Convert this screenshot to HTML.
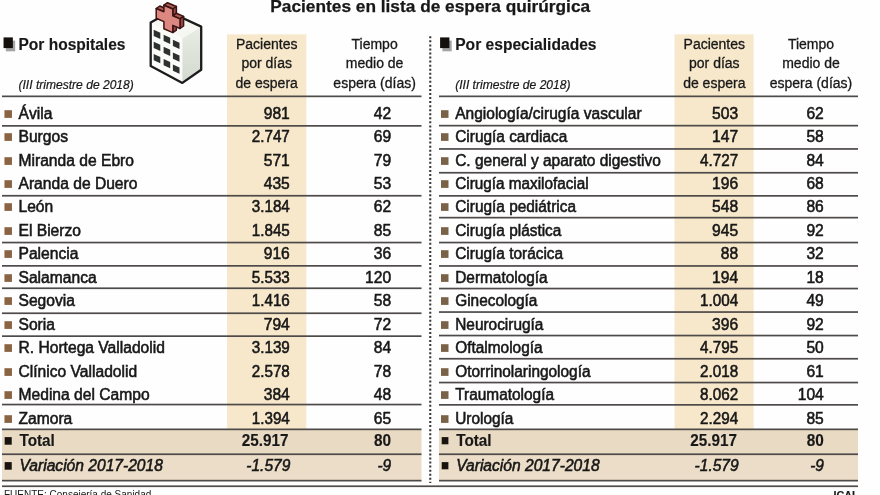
<!DOCTYPE html>
<html><head><meta charset="utf-8"><title>Pacientes en lista de espera quirúrgica</title>
<style>
html,body{margin:0;padding:0;background:#fff;}
body{width:880px;height:495px;overflow:hidden;position:relative;font-family:"Liberation Sans",sans-serif;color:#181818;}
#w{filter:blur(0.4px);will-change:transform;position:absolute;left:0;top:0;width:880px;height:495px;overflow:hidden;background:#fefefe;}
.a{position:absolute;white-space:nowrap;line-height:1;}
.t{font-size:16px;transform-origin:0 0;-webkit-text-stroke:0.55px #151515;}
.n{font-size:16px;text-align:right;transform-origin:100% 0;-webkit-text-stroke:0.55px #151515;}
.h{font-size:14px;text-align:center;line-height:19.5px;white-space:nowrap;position:absolute;transform-origin:50% 0;-webkit-text-stroke:0.3px #181818;}
.b{font-weight:bold;-webkit-text-stroke:0.15px #181818;}
.i{font-style:italic;}
</style></head><body><div id="w">
<svg style="position:absolute;left:0;top:0" width="880" height="495" viewBox="0 0 880 495"><rect x="227" y="34.3" width="79.3" height="395.2" fill="#f7e8cb"/><rect x="2" y="429.5" width="419.5" height="25" fill="#e9dac4"/><rect x="2" y="454.5" width="419.5" height="26.2" fill="#ebddc7"/><rect x="674.5" y="34.3" width="79.2" height="395.2" fill="#f7e8cb"/><rect x="439" y="429.5" width="419" height="25" fill="#e9dac4"/><rect x="439" y="454.5" width="419" height="26.2" fill="#ebddc7"/></svg>

<div class="a b" style="left:270px;top:-2px;transform:translateX(0.3px);font-size:17.3px;-webkit-text-stroke:0.25px #181818">Pacientes en lista de espera quirúrgica</div>
<div class="a t b" style="left:18px;transform:translateX(0.50px) scaleX(0.97);top:37px">Por hospitales</div>
<div class="a i" style="left:18px;transform:translateX(0.50px) scaleX(1.005);top:79px;font-size:12px;transform-origin:0 0;-webkit-text-stroke:0.2px #181818">(III trimestre de 2018)</div>
<div class="h" style="left:206px;transform:translateX(0.70px) scaleX(1);width:120px;top:34.6px">Pacientes<br>por días<br>de espera</div>
<div class="h" style="left:314px;transform:translateX(0.60px) scaleX(1);width:120px;top:34.6px">Tiempo<br>medio de<br>espera (días)</div>
<div class="a t" style="left:18px;transform:translateX(0.50px) scaleX(0.976);top:106px">Ávila</div>
<div class="a n" style="left:209px;transform:translateX(0.80px) scaleX(0.975);width:80px;top:106px">981</div>
<div class="a n" style="left:311px;transform:translateX(0.10px) scaleX(0.975);width:80px;top:106px">42</div>
<div class="a t" style="left:18px;transform:translateX(0.50px) scaleX(0.976);top:129px">Burgos</div>
<div class="a n" style="left:209px;transform:translateX(0.80px) scaleX(0.95);width:80px;top:129px">2.747</div>
<div class="a n" style="left:311px;transform:translateX(0.10px) scaleX(0.975);width:80px;top:129px">69</div>
<div class="a t" style="left:18px;transform:translateX(0.50px) scaleX(0.976);top:153px">Miranda de Ebro</div>
<div class="a n" style="left:209px;transform:translateX(0.80px) scaleX(0.975);width:80px;top:153px">571</div>
<div class="a n" style="left:311px;transform:translateX(0.10px) scaleX(0.975);width:80px;top:153px">79</div>
<div class="a t" style="left:18px;transform:translateX(0.50px) scaleX(0.976);top:176px">Aranda de Duero</div>
<div class="a n" style="left:209px;transform:translateX(0.80px) scaleX(0.975);width:80px;top:176px">435</div>
<div class="a n" style="left:311px;transform:translateX(0.10px) scaleX(0.975);width:80px;top:176px">53</div>
<div class="a t" style="left:18px;transform:translateX(0.50px) scaleX(0.976);top:199px">León</div>
<div class="a n" style="left:209px;transform:translateX(0.80px) scaleX(0.95);width:80px;top:199px">3.184</div>
<div class="a n" style="left:311px;transform:translateX(0.10px) scaleX(0.975);width:80px;top:199px">62</div>
<div class="a t" style="left:18px;transform:translateX(0.50px) scaleX(0.976);top:223px">El Bierzo</div>
<div class="a n" style="left:209px;transform:translateX(0.80px) scaleX(0.95);width:80px;top:223px">1.845</div>
<div class="a n" style="left:311px;transform:translateX(0.10px) scaleX(0.975);width:80px;top:223px">85</div>
<div class="a t" style="left:18px;transform:translateX(0.50px) scaleX(0.976);top:246px">Palencia</div>
<div class="a n" style="left:209px;transform:translateX(0.80px) scaleX(0.975);width:80px;top:246px">916</div>
<div class="a n" style="left:311px;transform:translateX(0.10px) scaleX(0.975);width:80px;top:246px">36</div>
<div class="a t" style="left:18px;transform:translateX(0.50px) scaleX(0.976);top:270px">Salamanca</div>
<div class="a n" style="left:209px;transform:translateX(0.80px) scaleX(0.95);width:80px;top:270px">5.533</div>
<div class="a n" style="left:311px;transform:translateX(0.10px) scaleX(0.975);width:80px;top:270px">120</div>
<div class="a t" style="left:18px;transform:translateX(0.50px) scaleX(0.976);top:293px">Segovia</div>
<div class="a n" style="left:209px;transform:translateX(0.80px) scaleX(0.95);width:80px;top:293px">1.416</div>
<div class="a n" style="left:311px;transform:translateX(0.10px) scaleX(0.975);width:80px;top:293px">58</div>
<div class="a t" style="left:18px;transform:translateX(0.50px) scaleX(0.976);top:317px">Soria</div>
<div class="a n" style="left:209px;transform:translateX(0.80px) scaleX(0.975);width:80px;top:317px">794</div>
<div class="a n" style="left:311px;transform:translateX(0.10px) scaleX(0.975);width:80px;top:317px">72</div>
<div class="a t" style="left:18px;transform:translateX(0.50px) scaleX(0.976);top:340px">R. Hortega Valladolid</div>
<div class="a n" style="left:209px;transform:translateX(0.80px) scaleX(0.95);width:80px;top:340px">3.139</div>
<div class="a n" style="left:311px;transform:translateX(0.10px) scaleX(0.975);width:80px;top:340px">84</div>
<div class="a t" style="left:18px;transform:translateX(0.50px) scaleX(0.976);top:364px">Clínico Valladolid</div>
<div class="a n" style="left:209px;transform:translateX(0.80px) scaleX(0.95);width:80px;top:364px">2.578</div>
<div class="a n" style="left:311px;transform:translateX(0.10px) scaleX(0.975);width:80px;top:364px">78</div>
<div class="a t" style="left:18px;transform:translateX(0.50px) scaleX(0.976);top:387px">Medina del Campo</div>
<div class="a n" style="left:209px;transform:translateX(0.80px) scaleX(0.975);width:80px;top:387px">384</div>
<div class="a n" style="left:311px;transform:translateX(0.10px) scaleX(0.975);width:80px;top:387px">48</div>
<div class="a t" style="left:18px;transform:translateX(0.50px) scaleX(0.976);top:411px">Zamora</div>
<div class="a n" style="left:209px;transform:translateX(0.80px) scaleX(0.95);width:80px;top:411px">1.394</div>
<div class="a n" style="left:311px;transform:translateX(0.10px) scaleX(0.975);width:80px;top:411px">65</div>
<div class="a t b" style="left:19px;transform:translateX(0.50px) scaleX(0.955);top:433px">Total</div>
<div class="a n b" style="left:208px;transform:translateX(0.60px) scaleX(0.955);width:80px;top:433px">25.917</div>
<div class="a n b" style="left:311px;transform:translateX(0.10px) scaleX(0.96);width:80px;top:433px">80</div>
<div class="a t i" style="left:19px;transform:translateX(0.50px) scaleX(0.975);top:458px">Variación 2017-2018</div>
<div class="a n i" style="left:210px;transform:translateX(0.30px) scaleX(0.97);width:80px;top:458px">-1.579</div>
<div class="a n i" style="left:311px;transform:translateX(0.10px) scaleX(0.96);width:80px;top:458px">-9</div>
<div class="a t b" style="left:455px;transform:translateX(0.20px) scaleX(0.975);top:37px">Por especialidades</div>
<div class="a i" style="left:455px;transform:translateX(0.20px) scaleX(1.005);top:79px;font-size:12px;transform-origin:0 0;-webkit-text-stroke:0.2px #181818">(III trimestre de 2018)</div>
<div class="h" style="left:654px;transform:translateX(0.30px) scaleX(1);width:120px;top:34.6px">Pacientes<br>por días<br>de espera</div>
<div class="h" style="left:751px;transform:translateX(0.00px) scaleX(1);width:120px;top:34.6px">Tiempo<br>medio de<br>espera (días)</div>
<div class="a t" style="left:455px;transform:translateX(0.20px) scaleX(0.97);top:106px">Angiología/cirugía vascular</div>
<div class="a n" style="left:658px;transform:translateX(0.10px) scaleX(0.975);width:80px;top:106px">503</div>
<div class="a n" style="left:743px;transform:translateX(0.80px) scaleX(0.975);width:80px;top:106px">62</div>
<div class="a t" style="left:455px;transform:translateX(0.20px) scaleX(0.963);top:129px">Cirugía cardiaca</div>
<div class="a n" style="left:658px;transform:translateX(0.10px) scaleX(0.975);width:80px;top:129px">147</div>
<div class="a n" style="left:743px;transform:translateX(0.80px) scaleX(0.975);width:80px;top:129px">58</div>
<div class="a t" style="left:455px;transform:translateX(0.20px) scaleX(0.967);top:153px">C. general y aparato digestivo</div>
<div class="a n" style="left:658px;transform:translateX(0.10px) scaleX(0.95);width:80px;top:153px">4.727</div>
<div class="a n" style="left:743px;transform:translateX(0.80px) scaleX(0.975);width:80px;top:153px">84</div>
<div class="a t" style="left:455px;transform:translateX(0.20px) scaleX(0.956);top:176px">Cirugía maxilofacial</div>
<div class="a n" style="left:658px;transform:translateX(0.10px) scaleX(0.975);width:80px;top:176px">196</div>
<div class="a n" style="left:743px;transform:translateX(0.80px) scaleX(0.975);width:80px;top:176px">68</div>
<div class="a t" style="left:455px;transform:translateX(0.20px) scaleX(0.963);top:199px">Cirugía pediátrica</div>
<div class="a n" style="left:658px;transform:translateX(0.10px) scaleX(0.975);width:80px;top:199px">548</div>
<div class="a n" style="left:743px;transform:translateX(0.80px) scaleX(0.975);width:80px;top:199px">86</div>
<div class="a t" style="left:455px;transform:translateX(0.20px) scaleX(0.963);top:223px">Cirugía plástica</div>
<div class="a n" style="left:658px;transform:translateX(0.10px) scaleX(0.975);width:80px;top:223px">945</div>
<div class="a n" style="left:743px;transform:translateX(0.80px) scaleX(0.975);width:80px;top:223px">92</div>
<div class="a t" style="left:455px;transform:translateX(0.20px) scaleX(0.963);top:246px">Cirugía torácica</div>
<div class="a n" style="left:658px;transform:translateX(0.10px) scaleX(0.975);width:80px;top:246px">88</div>
<div class="a n" style="left:743px;transform:translateX(0.80px) scaleX(0.975);width:80px;top:246px">32</div>
<div class="a t" style="left:455px;transform:translateX(0.20px) scaleX(0.963);top:270px">Dermatología</div>
<div class="a n" style="left:658px;transform:translateX(0.10px) scaleX(0.975);width:80px;top:270px">194</div>
<div class="a n" style="left:743px;transform:translateX(0.80px) scaleX(0.975);width:80px;top:270px">18</div>
<div class="a t" style="left:455px;transform:translateX(0.20px) scaleX(0.963);top:293px">Ginecología</div>
<div class="a n" style="left:658px;transform:translateX(0.10px) scaleX(0.95);width:80px;top:293px">1.004</div>
<div class="a n" style="left:743px;transform:translateX(0.80px) scaleX(0.975);width:80px;top:293px">49</div>
<div class="a t" style="left:455px;transform:translateX(0.20px) scaleX(0.963);top:317px">Neurocirugía</div>
<div class="a n" style="left:658px;transform:translateX(0.10px) scaleX(0.975);width:80px;top:317px">396</div>
<div class="a n" style="left:743px;transform:translateX(0.80px) scaleX(0.975);width:80px;top:317px">92</div>
<div class="a t" style="left:455px;transform:translateX(0.20px) scaleX(0.963);top:340px">Oftalmología</div>
<div class="a n" style="left:658px;transform:translateX(0.10px) scaleX(0.95);width:80px;top:340px">4.795</div>
<div class="a n" style="left:743px;transform:translateX(0.80px) scaleX(0.975);width:80px;top:340px">50</div>
<div class="a t" style="left:455px;transform:translateX(0.20px) scaleX(0.963);top:364px">Otorrinolaringología</div>
<div class="a n" style="left:658px;transform:translateX(0.10px) scaleX(0.95);width:80px;top:364px">2.018</div>
<div class="a n" style="left:743px;transform:translateX(0.80px) scaleX(0.975);width:80px;top:364px">61</div>
<div class="a t" style="left:455px;transform:translateX(0.20px) scaleX(0.963);top:387px">Traumatología</div>
<div class="a n" style="left:658px;transform:translateX(0.10px) scaleX(0.95);width:80px;top:387px">8.062</div>
<div class="a n" style="left:743px;transform:translateX(0.80px) scaleX(0.975);width:80px;top:387px">104</div>
<div class="a t" style="left:455px;transform:translateX(0.20px) scaleX(0.963);top:411px">Urología</div>
<div class="a n" style="left:658px;transform:translateX(0.10px) scaleX(0.95);width:80px;top:411px">2.294</div>
<div class="a n" style="left:743px;transform:translateX(0.80px) scaleX(0.975);width:80px;top:411px">85</div>
<div class="a t b" style="left:456px;transform:translateX(0.20px) scaleX(0.955);top:433px">Total</div>
<div class="a n b" style="left:656px;transform:translateX(0.90px) scaleX(0.955);width:80px;top:433px">25.917</div>
<div class="a n b" style="left:743px;transform:translateX(0.80px) scaleX(0.96);width:80px;top:433px">80</div>
<div class="a t i" style="left:456px;transform:translateX(0.20px) scaleX(0.975);top:458px">Variación 2017-2018</div>
<div class="a n i" style="left:658px;transform:translateX(0.60px) scaleX(0.97);width:80px;top:458px">-1.579</div>
<div class="a n i" style="left:743px;transform:translateX(0.80px) scaleX(0.96);width:80px;top:458px">-9</div>
<div class="a" style="left:4px;top:490.3px;font-size:10px">FUENTE: Consejería de Sanidad</div>
<div class="a b" style="left:833px;top:490px;transform:translateX(0.4px);font-size:10.8px">ICAL</div>
<svg style="position:absolute;left:0;top:0" width="880" height="495" viewBox="0 0 880 495"><rect x="5.85" y="40.6" width="9.3" height="10.7" fill="#a4a4a4"/><rect x="3.5500000000000003" y="37.4" width="9.3" height="10.7" fill="#14100e"/><rect x="4.45" y="110.20" width="7.5" height="7.7" fill="#8a6342"/><rect x="4.45" y="133.20" width="7.5" height="7.7" fill="#8a6342"/><rect x="4.45" y="157.20" width="7.5" height="7.7" fill="#8a6342"/><rect x="4.45" y="180.20" width="7.5" height="7.7" fill="#8a6342"/><rect x="4.45" y="203.20" width="7.5" height="7.7" fill="#8a6342"/><rect x="4.45" y="227.20" width="7.5" height="7.7" fill="#8a6342"/><rect x="4.45" y="250.20" width="7.5" height="7.7" fill="#8a6342"/><rect x="4.45" y="274.20" width="7.5" height="7.7" fill="#8a6342"/><rect x="4.45" y="297.20" width="7.5" height="7.7" fill="#8a6342"/><rect x="4.45" y="321.20" width="7.5" height="7.7" fill="#8a6342"/><rect x="4.45" y="344.20" width="7.5" height="7.7" fill="#8a6342"/><rect x="4.45" y="368.20" width="7.5" height="7.7" fill="#8a6342"/><rect x="4.45" y="391.20" width="7.5" height="7.7" fill="#8a6342"/><rect x="4.45" y="415.20" width="7.5" height="7.7" fill="#8a6342"/><rect x="4.65" y="437.10" width="7.1" height="7.6" fill="#1a1410"/><rect x="4.65" y="462.10" width="7.1" height="7.6" fill="#1a1410"/><rect x="2" y="95.50" width="419.5" height="1.7" fill="#4e4a49"/><rect x="2" y="125.00" width="419.5" height="1.7" fill="#4e4a49"/><rect x="2" y="194.90" width="419.5" height="1.7" fill="#4e4a49"/><rect x="2" y="241.70" width="419.5" height="1.7" fill="#4e4a49"/><rect x="2" y="265.00" width="419.5" height="1.7" fill="#4e4a49"/><rect x="2" y="287.40" width="419.5" height="1.7" fill="#4e4a49"/><rect x="2" y="312.40" width="419.5" height="1.7" fill="#4e4a49"/><rect x="2" y="335.30" width="419.5" height="1.7" fill="#4e4a49"/><rect x="2" y="403.70" width="419.5" height="1.7" fill="#4e4a49"/><rect x="2" y="428.50" width="419.5" height="1.7" fill="#4e4a49"/><rect x="2" y="453.40" width="419.5" height="1.7" fill="#4e4a49"/><rect x="2" y="479.80" width="419.5" height="1.7" fill="#4e4a49"/><rect x="442.40000000000003" y="40.6" width="9.3" height="10.7" fill="#a4a4a4"/><rect x="440.1" y="37.4" width="9.3" height="10.7" fill="#14100e"/><rect x="441" y="110.20" width="7.5" height="7.7" fill="#7a6248"/><rect x="441" y="133.20" width="7.5" height="7.7" fill="#7a6248"/><rect x="441" y="157.20" width="7.5" height="7.7" fill="#7a6248"/><rect x="441" y="180.20" width="7.5" height="7.7" fill="#7a6248"/><rect x="441" y="203.20" width="7.5" height="7.7" fill="#7a6248"/><rect x="441" y="227.20" width="7.5" height="7.7" fill="#7a6248"/><rect x="441" y="250.20" width="7.5" height="7.7" fill="#7a6248"/><rect x="441" y="274.20" width="7.5" height="7.7" fill="#7a6248"/><rect x="441" y="297.20" width="7.5" height="7.7" fill="#7a6248"/><rect x="441" y="321.20" width="7.5" height="7.7" fill="#7a6248"/><rect x="441" y="344.20" width="7.5" height="7.7" fill="#7a6248"/><rect x="441" y="368.20" width="7.5" height="7.7" fill="#7a6248"/><rect x="441" y="391.20" width="7.5" height="7.7" fill="#7a6248"/><rect x="441" y="415.20" width="7.5" height="7.7" fill="#7a6248"/><rect x="441.7" y="437.10" width="6.7" height="7.2" fill="#1a1410"/><rect x="441.7" y="462.10" width="6.7" height="7.2" fill="#1a1410"/><rect x="439" y="95.50" width="419" height="1.7" fill="#4e4a49"/><rect x="439" y="124.80" width="419" height="1.7" fill="#4e4a49"/><rect x="439" y="148.10" width="419" height="1.7" fill="#4e4a49"/><rect x="439" y="171.90" width="419" height="1.7" fill="#4e4a49"/><rect x="439" y="195.00" width="419" height="1.7" fill="#4e4a49"/><rect x="439" y="216.80" width="419" height="1.7" fill="#4e4a49"/><rect x="439" y="241.70" width="419" height="1.7" fill="#4e4a49"/><rect x="439" y="265.10" width="419" height="1.7" fill="#4e4a49"/><rect x="439" y="287.70" width="419" height="1.7" fill="#4e4a49"/><rect x="439" y="311.20" width="419" height="1.7" fill="#4e4a49"/><rect x="439" y="334.70" width="419" height="1.7" fill="#4e4a49"/><rect x="439" y="357.90" width="419" height="1.7" fill="#4e4a49"/><rect x="439" y="381.70" width="419" height="1.7" fill="#4e4a49"/><rect x="439" y="404.00" width="419" height="1.7" fill="#4e4a49"/><rect x="439" y="428.50" width="419" height="1.7" fill="#4e4a49"/><rect x="439" y="453.40" width="419" height="1.7" fill="#4e4a49"/><rect x="439" y="479.80" width="419" height="1.7" fill="#4e4a49"/><rect x="2" y="485.4" width="856" height="1.7" fill="#4e4a49"/><line x1="430.25" y1="36.3" x2="430.25" y2="483" stroke="#3a3a3a" stroke-width="2.1" stroke-dasharray="2 2.05"/></svg>
<svg style="position:absolute;left:0;top:0" width="230" height="95" viewBox="0 0 230 95">
<defs><linearGradient id="rg" x1="0" y1="0" x2="0" y2="1"><stop offset="0" stop-color="#e9ede5"/><stop offset="1" stop-color="#d2d9ce"/></linearGradient></defs>
<polygon points="150.7,22.6 182.4,38.3 182.4,82.9 150.7,65.9" fill="#fbfbf9"/>
<polygon points="182.4,38.3 201.2,26.6 201.2,69.7 182.4,82.9" fill="url(#rg)"/>
<polygon points="150.7,22.6 169.6,12.0 201.2,26.6 182.4,38.3" fill="#f6f6f2"/>
<polygon points="153.7,29.8 160.3,32.8 160.3,39.1 153.7,36.1" fill="#2d312f"/>
<polygon points="153.7,41.7 160.3,44.7 160.3,51.0 153.7,48.0" fill="#2d312f"/>
<polygon points="153.7,54.0 160.3,57.0 160.3,63.3 153.7,60.3" fill="#2d312f"/>
<polygon points="163.6,34.7 170.2,37.7 170.2,44.0 163.6,41.0" fill="#2d312f"/>
<polygon points="163.6,46.8 170.2,49.8 170.2,56.1 163.6,53.1" fill="#2d312f"/>
<polygon points="163.6,59.0 170.2,62.0 170.2,68.3 163.6,65.3" fill="#2d312f"/>
<polygon points="172.9,39.8 179.5,42.8 179.5,49.1 172.9,46.1" fill="#2d312f"/>
<polygon points="172.9,52.4 179.5,55.4 179.5,61.7 172.9,58.7" fill="#2d312f"/>
<polygon points="172.9,64.4 179.5,67.4 179.5,73.7 172.9,70.7" fill="#2d312f"/>
<polygon points="150.7,22.6 169.6,12.0 201.2,26.6 201.2,69.7 182.4,82.9 150.7,65.9" fill="none" stroke="#1c1c1c" stroke-width="2.3" stroke-linejoin="round"/>
<polygon points="156.2,8.5 163.9,11.8 167.5,9.3 159.8,6.0" fill="#b05a55" stroke="#3b1414" stroke-width="1.5" stroke-linejoin="round"/>
<polygon points="163.9,5.2 172.8,9.0 176.4,6.5 167.5,2.7" fill="#b05a55" stroke="#3b1414" stroke-width="1.5" stroke-linejoin="round"/>
<polygon points="172.8,9.0 172.8,15.8 176.4,13.3 176.4,6.5" fill="#9a4743" stroke="#3b1414" stroke-width="1.5" stroke-linejoin="round"/>
<polygon points="172.8,15.8 180.0,18.9 183.6,16.4 176.4,13.3" fill="#b05a55" stroke="#3b1414" stroke-width="1.5" stroke-linejoin="round"/>
<polygon points="180.0,18.9 180.0,28.5 183.6,26.0 183.6,16.4" fill="#9a4743" stroke="#3b1414" stroke-width="1.5" stroke-linejoin="round"/>
<polygon points="172.8,25.4 172.8,32.6 176.4,30.1 176.4,22.9" fill="#9a4743" stroke="#3b1414" stroke-width="1.5" stroke-linejoin="round"/>
<polygon points="163.9,5.2 172.8,9.0 172.8,15.8 180.0,18.9 180.0,28.5 172.8,25.4 172.8,32.6 163.9,28.8 163.9,21.6 156.2,18.3 156.2,8.5 163.9,11.8" fill="#dd8781" stroke="#3b1414" stroke-width="1.5" stroke-linejoin="round"/>
</svg>
</div></body></html>
